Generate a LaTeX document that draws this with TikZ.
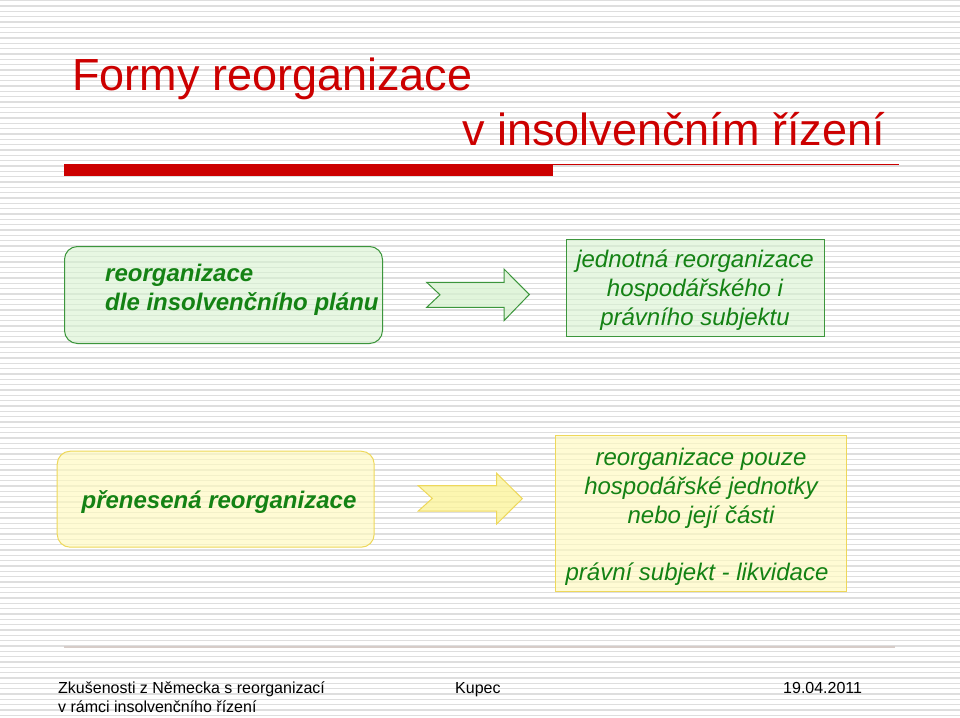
\documentclass[tikz,border=0pt]{standalone}
\usepackage{fontspec}
\setmainfont{Liberation Sans}
\definecolor{titlered}{RGB}{204,0,0}
\definecolor{txtgreen}{RGB}{20,130,20}
\definecolor{gborder}{RGB}{60,150,60}
\definecolor{gfill}{RGB}{215,242,208}
\definecolor{yborder}{RGB}{238,216,90}
\definecolor{yfill}{RGB}{255,250,190}
\definecolor{yarrow}{RGB}{252,244,150}
\definecolor{stripecol}{RGB}{222,222,222}
\definecolor{footline}{RGB}{214,204,200}
\tikzset{
  stripe/.style={draw=stripecol, line width=1.1pt},
  gbox/.style={draw=gborder, line width=1pt, fill=gfill, fill opacity=0.6, inner sep=0pt},
  ybox/.style={draw=yborder, line width=1pt, fill=yfill, fill opacity=0.65, inner sep=0pt},
  garrow/.style={draw=gborder, line width=1pt, fill=gfill, fill opacity=0.75, line join=miter},
  yarrowstyle/.style={draw=yborder, line width=1pt, fill=yarrow, fill opacity=0.75, line join=miter},
  titletext/.style={inner sep=0pt, text=titlered, font=\fontsize{45}{54}\selectfont},
  bitext/.style={inner sep=0pt, text=txtgreen, font=\fontsize{24}{29}\selectfont\bfseries\itshape},
  itext/.style={inner sep=0pt, text=txtgreen, font=\fontsize{24}{29}\selectfont\itshape},
  foottext/.style={inner sep=0pt, text=black, font=\fontsize{16}{19}\selectfont},
}
\begin{document}
\begin{tikzpicture}[x=1pt,y=-1pt]
\useasboundingbox (0,0) rectangle (960,717);
\fill[white] (0,0) rectangle (960,717);
\foreach \i in {0,...,134} \draw[stripe] (0,{0.7+5.3333*\i}) -- (960,{0.7+5.3333*\i});

% title
\node[titletext, anchor=base west] (title1) at (72,90) {Formy reorganizace};
\node[titletext, anchor=base east] (title2) at (885,145) {v insolvenčním řízení};
\fill[titlered] (64,164) rectangle (553,176);
\draw[titlered, line width=1.2pt] (553,164.6) -- (899,164.6);

% row 1
\node[gbox, rounded corners=13pt, minimum width=318pt, minimum height=97pt, anchor=north west] (planbox) at (64,246) {};
\node[bitext, anchor=base west] (plan1) at (105,281.5) {reorganizace};
\node[bitext, anchor=base west] (plan2) at (105,310) {dle insolvenčního plánu};

\path[garrow] (426.7,282.3) -- (504,282.3) -- (504,269) -- (529.3,294.5) -- (504,320.7) -- (504,307.3) -- (426.7,307.3) -- (440,294.8) -- cycle;

\node[gbox, minimum width=258pt, minimum height=97pt, anchor=north west] (unibox) at (566,239) {};
\node[itext, anchor=base] (uni1) at (695,267.5) {jednotná reorganizace};
\node[itext, anchor=base] (uni2) at (695,296.5) {hospodářského i};
\node[itext, anchor=base] (uni3) at (695,325.5) {právního subjektu};

% row 2
\node[ybox, rounded corners=13pt, minimum width=317pt, minimum height=96pt, anchor=north west] (transbox) at (56.7,450.7) {};
\node[bitext, anchor=base] (trans1) at (219,508) {přenesená reorganizace};

\path[yarrowstyle] (418.3,485.7) -- (496.7,485.7) -- (496.7,473.3) -- (522.3,498.7) -- (496.7,524) -- (496.7,511) -- (418.3,511) -- (432.3,498.4) -- cycle;

\node[ybox, minimum width=290.7pt, minimum height=155.7pt, anchor=north west] (partbox) at (555,435) {};
\node[itext, anchor=base] (part1) at (701,465.5) {reorganizace pouze};
\node[itext, anchor=base] (part2) at (701,494.5) {hospodářské jednotky};
\node[itext, anchor=base] (part3) at (701,523) {nebo její části};
\node[itext, anchor=base] (part4) at (697,580) {právní subjekt - likvidace};

% footer
\draw[footline, line width=1.5pt] (64,647) -- (895,647);
\node[foottext, anchor=base west] (foot1) at (58,693) {Zkušenosti z Německa s reorganizací};
\node[foottext, anchor=base west] (foot2) at (58,712) {v rámci insolvenčního řízení};
\node[foottext, anchor=base west] (foot3) at (455,693) {Kupec};
\node[foottext, anchor=base west] (foot4) at (783,693) {19.04.2011};
\end{tikzpicture}
\end{document}
